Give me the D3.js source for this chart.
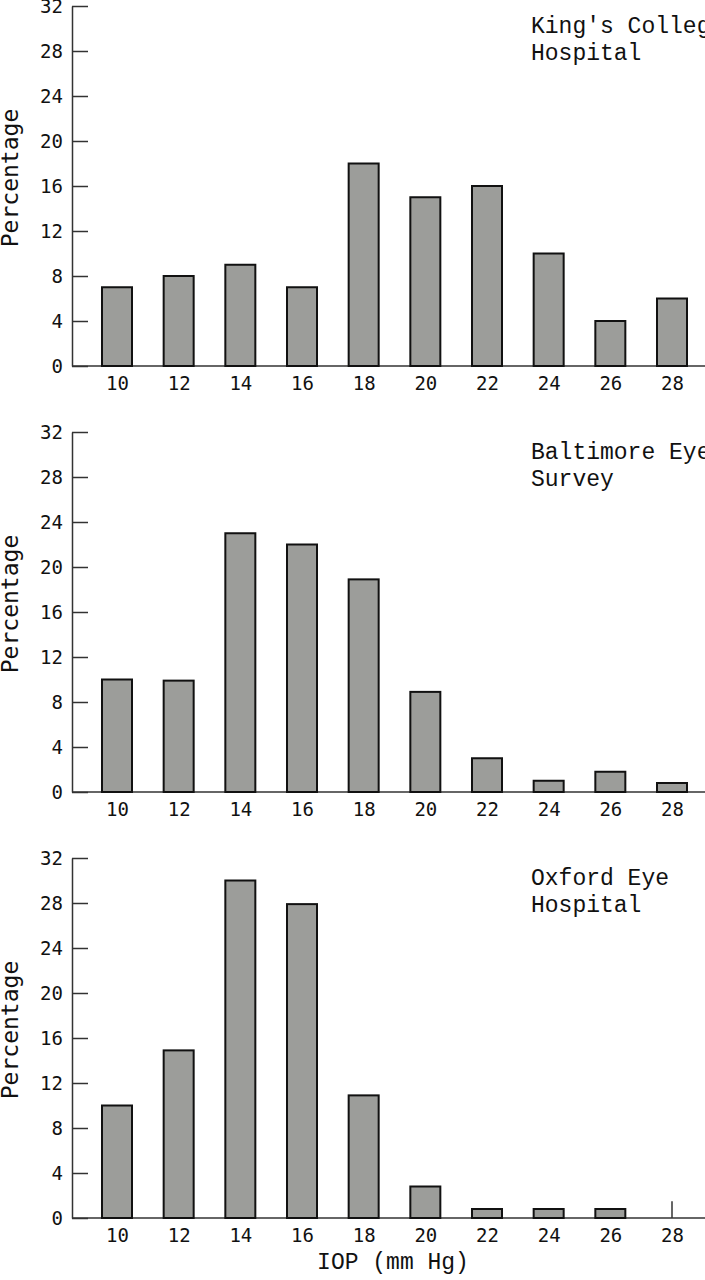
<!DOCTYPE html>
<html>
<head>
<meta charset="utf-8">
<script src="https://cdn.jsdelivr.net/npm/d3@7"></script>
<style>
  body { margin: 0; background: white; }
  svg { display: block; }
</style>
</head>
<body>
<svg id="chart" width="705" height="1280"></svg>
<script>
const iop = [10, 12, 14, 16, 18, 20, 22, 24, 26, 28]
const yTicks = [0, 4, 8, 12, 16, 20, 24, 28, 32]

const kings = [7, 8, 9, 7, 18, 15, 16, 10, 4, 6]
const baltimore = [10, 9.9, 23, 22, 18.9, 8.9, 3, 1, 1.8, 0.8]
const oxford = [10, 14.9, 30, 27.9, 10.9, 2.8, 0.8, 0.8, 0.8, 1.5]
// the 28 mm Hg value in the Oxford panel is drawn as a single line only
const oxfordLineOnly = [28]

const titles = [
  ["King's College", "Hospital"],
  ["Baltimore Eye", "Survey"],
  ["Oxford Eye", "Hospital"]
]

const panels = [
  { values: kings, lineOnly: [], title: titles[0] },
  { values: baltimore, lineOnly: [], title: titles[1] },
  { values: oxford, lineOnly: oxfordLineOnly, title: titles[2] }
]

const svg = d3.select('#chart')
const axisX = 72
const barW = 30

const x = d3.scalePoint()
  .domain(iop)
  .range([117, 672])

panels.forEach((p, i) => {
  const off = i * 426
  const y = d3.scaleLinear()
    .domain([0, 32])
    .range([366 + off, 6 + off])

  const g = svg.append('g')

  // y axis with inward ticks
  g.append('g')
    .attr('transform', `translate(${axisX},0)`)
    .call(d3.axisLeft(y).tickValues(yTicks).tickSize(-16).tickSizeOuter(0).tickPadding(9))
    .call(a => a.select('.domain').attr('stroke', '#333').attr('stroke-width', 1.5))
    .call(a => a.selectAll('.tick line').attr('stroke', '#333').attr('stroke-width', 1.5))
    .call(a => a.selectAll('.tick text')
      .attr('font-family', 'DejaVu Sans Mono')
      .attr('font-size', 19)
      .attr('fill', '#111'))

  // x axis line
  g.append('line')
    .attr('x1', axisX).attr('x2', 705)
    .attr('y1', y(0)).attr('y2', y(0))
    .attr('stroke', '#333').attr('stroke-width', 1.5)

  g.append('g')
    .attr('transform', `translate(0,${y(0)})`)
    .call(d3.axisBottom(x).tickSize(0).tickPadding(11))
    .call(a => a.select('.domain').remove())
    .call(a => a.selectAll('.tick text')
      .attr('font-family', 'DejaVu Sans Mono')
      .attr('font-size', 19)
      .attr('fill', '#111'))

  const data = iop.map((k, j) => ({ k, v: p.values[j] }))

  g.selectAll('rect')
    .data(data.filter(d => !p.lineOnly.includes(d.k)))
    .join('rect')
    .attr('x', d => x(d.k) - barW / 2)
    .attr('y', d => y(d.v))
    .attr('width', barW)
    .attr('height', d => y(0) - y(d.v))
    .attr('fill', '#9c9d9a')
    .attr('stroke', '#111')
    .attr('stroke-width', 2)

  g.selectAll('line.mark')
    .data(data.filter(d => p.lineOnly.includes(d.k)))
    .join('line')
    .attr('class', 'mark')
    .attr('x1', d => x(d.k)).attr('x2', d => x(d.k))
    .attr('y1', y(0)).attr('y2', d => y(d.v))
    .attr('stroke', '#333').attr('stroke-width', 1.5)

  // y label
  g.append('text')
    .attr('transform', `translate(18,${178 + off}) rotate(-90)`)
    .attr('text-anchor', 'middle')
    .attr('font-family', 'DejaVu Sans Mono')
    .attr('font-size', 23)
    .attr('fill', '#111')
    .text('Percentage')

  // panel title
  g.selectAll('text.title')
    .data(p.title)
    .join('text')
    .attr('class', 'title')
    .attr('x', 531)
    .attr('y', (d, j) => 33 + off + j * 27)
    .attr('font-family', 'Liberation Mono')
    .attr('font-size', 23)
    .attr('fill', '#111')
    .text(d => d)
})

svg.append('text')
  .attr('x', 393)
  .attr('y', 1269)
  .attr('text-anchor', 'middle')
  .attr('font-family', 'Liberation Mono')
  .attr('font-size', 23)
  .attr('fill', '#111')
  .text('IOP (mm Hg)')
</script>
</body>
</html>
